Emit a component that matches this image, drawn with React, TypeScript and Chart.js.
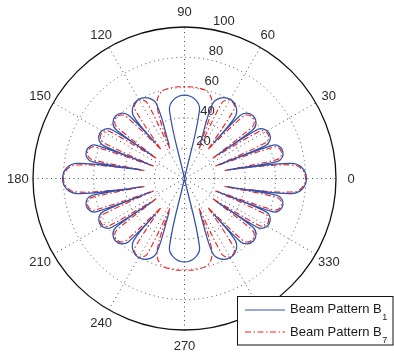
import React, { useEffect, useRef } from "react";
import { Chart, registerables } from "chart.js";

Chart.register(...registerables);

// ---- data (angle in degrees, radius in plot units); null separates lobes ----
const B1_THETA: (number | null)[] = [
  348.8, 350.3, 352.0, 354.8, 0, 5.2, 8.0, 9.7, 11.2, null,
  11.2, 10.31, 12.04, 15.5, 18.96, 20.69, 21.8, null,
  21.8, 22.09, 24.1, 28, 31.9, 33.91, 35.6, null,
  35.6, 35.51, 37.74, 42, 46.26, 48.49, 50.7, null,
  50.7, 50.57, 54.0, 60, 66.0, 69.43, 65.5, null,
  77.6, 77.6, 82.4, 90, 97.6, 102.4, 102.4, null,
  114.5, 110.57, 114.0, 120, 126.0, 129.43, 129.3, null,
  129.3, 131.51, 133.74, 138, 142.26, 144.49, 144.4, null,
  144.4, 146.09, 148.1, 152, 155.9, 157.91, 158.2, null,
  158.2, 159.31, 161.04, 164.5, 167.96, 169.69, 168.8, null,
  168.8, 170.3, 172.0, 174.8, 180, 185.2, 188.0, 189.7, 191.2, null,
  191.2, 190.31, 192.04, 195.5, 198.96, 200.69, 201.8, null,
  201.8, 202.09, 204.1, 208, 211.9, 213.91, 215.6, null,
  215.6, 215.51, 217.74, 222, 226.26, 228.49, 230.7, null,
  230.7, 230.57, 234.0, 240, 246.0, 249.43, 245.5, null,
  257.6, 257.6, 262.4, 270, 277.6, 282.4, 282.4, null,
  294.5, 290.57, 294.0, 300, 306.0, 309.43, 309.3, null,
  309.3, 311.51, 313.74, 318, 322.26, 324.49, 324.4, null,
  324.4, 326.09, 328.1, 332, 335.9, 337.91, 338.2, null,
  338.2, 339.31, 341.04, 344.5, 347.96, 349.69, 348.8,
];
const B1_R: (number | null)[] = [
  28.8, 46.9, 71.3, 77.9, 80.5, 77.9, 71.3, 46.9, 28.8, null,
  28.8, 61.97, 65.8, 67.3, 65.8, 61.97, 24.0, null,
  24.0, 57.73, 61.77, 63.4, 61.77, 57.73, 26.6, null,
  26.6, 55.47, 59.72, 61.4, 59.72, 55.47, 30.0, null,
  30.0, 52.39, 58.07, 60.3, 58.07, 52.39, 24.5, null,
  0, 46.3, 52.7, 55.1, 52.7, 46.3, 0, null,
  24.5, 52.39, 58.07, 60.3, 58.07, 52.39, 30.0, null,
  30.0, 55.47, 59.72, 61.4, 59.72, 55.47, 26.6, null,
  26.6, 57.73, 61.77, 63.4, 61.77, 57.73, 24.0, null,
  24.0, 61.97, 65.8, 67.3, 65.8, 61.97, 28.8, null,
  28.8, 46.9, 71.3, 77.9, 80.5, 77.9, 71.3, 46.9, 28.8, null,
  28.8, 61.97, 65.8, 67.3, 65.8, 61.97, 24.0, null,
  24.0, 57.73, 61.77, 63.4, 61.77, 57.73, 26.6, null,
  26.6, 55.47, 59.72, 61.4, 59.72, 55.47, 30.0, null,
  30.0, 52.39, 58.07, 60.3, 58.07, 52.39, 24.5, null,
  0, 46.3, 52.7, 55.1, 52.7, 46.3, 0, null,
  24.5, 52.39, 58.07, 60.3, 58.07, 52.39, 30.0, null,
  30.0, 55.47, 59.72, 61.4, 59.72, 55.47, 26.6, null,
  26.6, 57.73, 61.77, 63.4, 61.77, 57.73, 24.0, null,
  24.0, 61.97, 65.8, 67.3, 65.8, 61.97, 28.8,
];

const B7_THETA: (number | null)[] = [
  348.8, 350.4, 352.84, 355.34, 0, 4.66, 7.16, 9.6, 11.2, null,
  11.2, 11.54, 12.83, 15.5, 18.17, 19.46, 21.8, null,
  21.8, 23.78, 25.16, 28, 30.84, 32.22, 35.6, null,
  35.6, 37.26, 38.83, 42, 45.17, 46.74, 51, null,
  51, 54.21, 55.8, 59, 62.2, 63.79, 64, null,
  64, 69, 74, 82, 90, 98, 106, 111, 116, null,
  116, 116.21, 117.8, 121, 124.2, 125.79, 129, null,
  129, 133.26, 134.83, 138, 141.17, 142.74, 144.4, null,
  144.4, 147.78, 149.16, 152, 154.84, 156.22, 158.2, null,
  158.2, 160.54, 161.83, 164.5, 167.17, 168.46, 168.8, null,
  168.8, 170.4, 172.84, 175.34, 180, 184.66, 187.16, 189.6, 191.2, null,
  191.2, 191.54, 192.83, 195.5, 198.17, 199.46, 201.8, null,
  201.8, 203.78, 205.16, 208, 210.84, 212.22, 215.6, null,
  215.6, 217.26, 218.83, 222, 225.17, 226.74, 231, null,
  231, 234.21, 235.8, 239, 242.2, 243.79, 244, null,
  244, 249, 254, 262, 270, 278, 286, 291, 296, null,
  296, 296.21, 297.8, 301, 304.2, 305.79, 309, null,
  309, 313.26, 314.83, 318, 321.17, 322.74, 324.4, null,
  324.4, 327.78, 329.16, 332, 334.84, 336.22, 338.2, null,
  338.2, 340.54, 341.83, 344.5, 347.17, 348.46, 348.8,
];
const B7_R: (number | null)[] = [
  27, 46, 71.5, 77.5, 79.9, 77.5, 71.5, 46, 27, null,
  27, 62.2, 65.15, 66.3, 65.15, 62.2, 22, null,
  22, 58.24, 61.2, 62.4, 61.2, 58.24, 23, null,
  23, 55.97, 59.13, 60.4, 59.13, 55.97, 25, null,
  25, 55.3, 58.47, 59.7, 58.47, 55.3, 22, null,
  22, 50, 58.5, 60.5, 60.5, 60.5, 58.5, 50, 22, null,
  22, 55.3, 58.47, 59.7, 58.47, 55.3, 25, null,
  25, 55.97, 59.13, 60.4, 59.13, 55.97, 23, null,
  23, 58.24, 61.2, 62.4, 61.2, 58.24, 22, null,
  22, 62.2, 65.15, 66.3, 65.15, 62.2, 27, null,
  27, 46, 71.5, 77.5, 79.9, 77.5, 71.5, 46, 27, null,
  27, 62.2, 65.15, 66.3, 65.15, 62.2, 22, null,
  22, 58.24, 61.2, 62.4, 61.2, 58.24, 23, null,
  23, 55.97, 59.13, 60.4, 59.13, 55.97, 25, null,
  25, 55.3, 58.47, 59.7, 58.47, 55.3, 22, null,
  22, 50, 58.5, 60.5, 60.5, 60.5, 58.5, 50, 22, null,
  22, 55.3, 58.47, 59.7, 58.47, 55.3, 25, null,
  25, 55.97, 59.13, 60.4, 59.13, 55.97, 23, null,
  23, 58.24, 61.2, 62.4, 61.2, 58.24, 22, null,
  22, 62.2, 65.15, 66.3, 65.15, 62.2, 27,
];

const ANGLE_TICKS = [0, 30, 60, 90, 120, 150, 180, 210, 240, 270, 300, 330];
const SPOKE_ANGLES = [0, 30, 60, 90, 120, 150];
const RING_TICKS = [20, 40, 60, 80];
const R_MAX = 100;
const SERIES_NAMES = ["Beam Pattern B", "Beam Pattern B"];
const SERIES_SUBS = ["1", "7"];

// ---- layout / style constants ----
const W = 394;
const H = 358;
const CX = 184.5;
const CY = 178.5;
const PX_PER_UNIT = 1.515;
const FONT = '"Liberation Sans", Arial, Helvetica, sans-serif';
const BLUE = "#3352aa";
const RED = "#f02020";
const RED_DASH = [6, 2.5, 1.5, 2.5];

function toXY(thetaArr: (number | null)[], rArr: (number | null)[]) {
  return thetaArr.map((t, i) => {
    const r = rArr[i];
    if (t === null || r === null || r === undefined) return { x: NaN, y: NaN };
    const a = (t * Math.PI) / 180;
    return { x: r * Math.cos(a), y: r * Math.sin(a) };
  });
}

const polarGrid = {
  id: "polarGrid",
  beforeDatasetsDraw(chart: any) {
    const { ctx, scales } = chart;
    const xs = scales.x;
    const ys = scales.y;
    const cx = xs.getPixelForValue(0);
    const cy = ys.getPixelForValue(0);
    const rp = (v: number) => xs.getPixelForValue(v) - cx;
    ctx.save();
    ctx.strokeStyle = "#4a4a4a";
    ctx.lineWidth = 1;
    ctx.setLineDash([1, 3.5]);
    RING_TICKS.forEach((v) => {
      ctx.beginPath();
      ctx.arc(cx, cy, rp(v), 0, Math.PI * 2);
      ctx.stroke();
    });
    SPOKE_ANGLES.forEach((a) => {
      const rad = (a * Math.PI) / 180;
      const R = rp(R_MAX);
      ctx.beginPath();
      ctx.moveTo(cx - R * Math.cos(rad), cy + R * Math.sin(rad));
      ctx.lineTo(cx + R * Math.cos(rad), cy - R * Math.sin(rad));
      ctx.stroke();
    });
    ctx.setLineDash([]);
    ctx.strokeStyle = "#111";
    ctx.lineWidth = 1.3;
    ctx.beginPath();
    ctx.arc(cx, cy, rp(R_MAX), 0, Math.PI * 2);
    ctx.stroke();
    ctx.fillStyle = "#2a2a2a";
    ctx.font = `13px ${FONT}`;
    ctx.textAlign = "center";
    ctx.textBaseline = "middle";
    ANGLE_TICKS.forEach((a) => {
      const rad = (a * Math.PI) / 180;
      const R = rp(R_MAX * 1.1);
      ctx.fillText(String(a), cx + R * Math.cos(rad), cy - R * Math.sin(rad) + 1);
    });
    ctx.textAlign = "left";
    ctx.textBaseline = "bottom";
    const r82 = (82 * Math.PI) / 180;
    [...RING_TICKS, R_MAX].forEach((v) => {
      const R = rp(v + 1);
      ctx.fillText("  " + v, cx + R * Math.cos(r82), cy - R * Math.sin(r82) + 1);
    });
    ctx.restore();
  },
};

const legendBox = {
  id: "legendBox",
  afterDraw(chart: any) {
    const { ctx } = chart;
    ctx.save();
    ctx.fillStyle = "#fff";
    ctx.fillRect(237.5, 296.5, 160, 48.5);
    ctx.strokeStyle = "#111";
    ctx.lineWidth = 1;
    ctx.setLineDash([]);
    ctx.strokeRect(237.5, 296.5, 155.5, 48.5);
    const rows = [
      { y: 310, base: 313, color: BLUE, dash: [] as number[] },
      { y: 332, base: 336, color: RED, dash: RED_DASH },
    ];
    rows.forEach((row, i) => {
      ctx.strokeStyle = row.color;
      ctx.lineWidth = 1.2;
      ctx.setLineDash(row.dash);
      ctx.beginPath();
      ctx.moveTo(245, row.y);
      ctx.lineTo(285, row.y);
      ctx.stroke();
      ctx.setLineDash([]);
      ctx.fillStyle = "#1a1a1a";
      ctx.font = `13px ${FONT}`;
      ctx.textAlign = "left";
      ctx.textBaseline = "alphabetic";
      ctx.fillText(SERIES_NAMES[i], 290, row.base);
      const w = ctx.measureText(SERIES_NAMES[i]).width;
      ctx.font = `9px ${FONT}`;
      ctx.fillText(SERIES_SUBS[i], 290 + w + 0.5, row.base + 6.5);
    });
    ctx.restore();
  },
};

export default function App() {
  const ref = useRef<HTMLCanvasElement | null>(null);
  useEffect(() => {
    if (!ref.current) return;
    const chart = new Chart(ref.current, {
      type: "scatter",
      data: {
        datasets: [
          {
            label: SERIES_NAMES[0] + SERIES_SUBS[0],
            data: toXY(B1_THETA, B1_R),
            showLine: true,
            borderColor: BLUE,
            borderWidth: 1.25,
            pointRadius: 0,
            tension: 0.4,
            spanGaps: false,
            fill: false,
          },
          {
            label: SERIES_NAMES[1] + SERIES_SUBS[1],
            data: toXY(B7_THETA, B7_R),
            showLine: true,
            borderColor: RED,
            borderWidth: 1.1,
            borderDash: RED_DASH,
            pointRadius: 0,
            tension: 0.4,
            spanGaps: false,
            fill: false,
          },
        ],
      },
      options: {
        animation: false,
        responsive: false,
        maintainAspectRatio: false,
        devicePixelRatio: 1,
        layout: { padding: 0 },
        scales: {
          x: {
            type: "linear",
            display: false,
            min: -CX / PX_PER_UNIT,
            max: (W - CX) / PX_PER_UNIT,
          },
          y: {
            type: "linear",
            display: false,
            min: -(H - CY) / PX_PER_UNIT,
            max: CY / PX_PER_UNIT,
          },
        },
        plugins: {
          legend: { display: false },
          tooltip: { enabled: false },
          title: { display: false },
        },
        events: [],
      },
      plugins: [polarGrid, legendBox],
    });
    return () => chart.destroy();
  }, []);
  return (
    <div style={{ position: "fixed", left: 0, top: 0, width: W, height: H, background: "#fff" }}>
      <canvas ref={ref} width={W} height={H} style={{ width: W, height: H, display: "block" }} />
    </div>
  );
}
